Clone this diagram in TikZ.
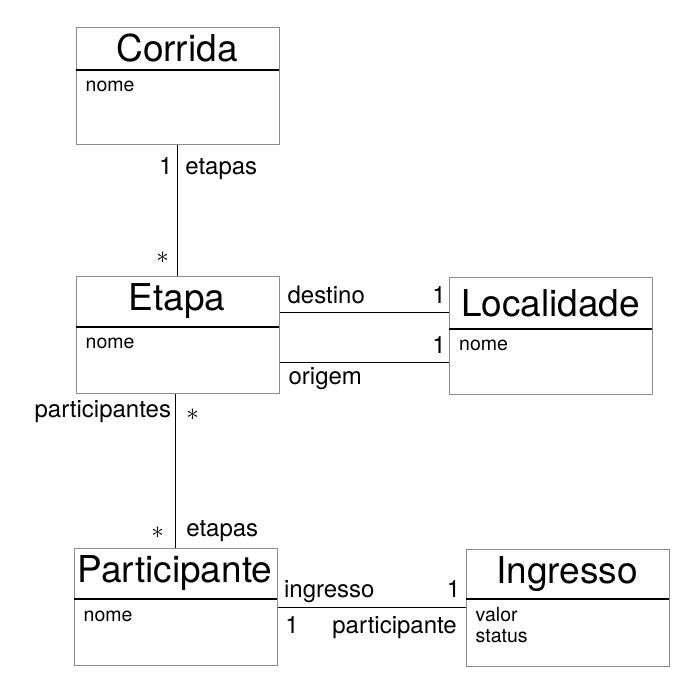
\documentclass[tikz,border=0pt]{standalone}
\usepackage{fontspec}
\setmainfont{TeX Gyre Heros}
\begin{document}
\begin{tikzpicture}[x=1pt,y=-1pt]
  \tikzset{
    classbox/.style={draw=gray!90,line width=1.4pt,minimum width=203pt,minimum height=117pt,inner sep=0pt},
    classtitle/.style={font=\fontsize{37}{40}\selectfont,inner sep=0pt},
    classattr/.style={font=\fontsize{19.5}{21}\selectfont,inner sep=0pt},
    divider/.style={line width=1.6pt},
    assoc/.style={line width=1.4pt},
    lbl/.style={font=\fontsize{24}{26}\selectfont,inner sep=0pt},
    mult/.style={lbl},
    pics/umlclass/.style n args={3}{code={
        \node[classbox,anchor=north west] (-box) at (0,0) {};
        \draw[divider] (0,#2) -- (203,#2);
        \node[classtitle] (-title) at (101.5,#2/2) {#1};
        \node[classattr,anchor=base west] (-attrs) at (10,#2+22)
          {\begin{tabular}[t]{@{}l@{}}#3\end{tabular}};
      }}
  }
  \useasboundingbox (0,0) rectangle (686,684);
  % classes
  \pic (corrida) at (75.5,27) {umlclass={Corrida}{43}{nome}};
  \pic (etapa) at (75.5,276) {umlclass={Etapa}{51}{nome}};
  \pic (localidade) at (449,277) {umlclass={Localidade}{52}{nome}};
  \pic (participante) at (73.5,548) {umlclass={Participante}{51}{nome}};
  \pic (ingresso) at (465.5,549) {umlclass={Ingresso}{50}{valor\\status}};
  % associations
  \draw[assoc] (corrida-box.south) -- (etapa-box.north)
    node[lbl,pos=0,anchor=base east,xshift=-4.5pt,yshift=-29pt] (corrida-mult) {1}
    node[lbl,pos=0,anchor=base west,xshift=7pt,yshift=-29pt] (corrida-role) {etapas}
    node[mult,pos=1,xshift=-15pt,yshift=18pt] (etapa-mult) {$\ast$};
  \coordinate (destino-a) at ([yshift=22.5pt]etapa-box.east);
  \coordinate (origem-a) at ([yshift=-27.5pt]etapa-box.east);
  \draw[assoc] (destino-a) -- (destino-a -| localidade-box.west)
    node[lbl,pos=0,anchor=base west,xshift=7pt,yshift=9pt] (destino-role) {destino}
    node[lbl,pos=1,anchor=base east,xshift=-2.5pt,yshift=9pt] (destino-mult) {1};
  \draw[assoc] (origem-a) -- (origem-a -| localidade-box.west)
    node[lbl,pos=1,anchor=base east,xshift=-2.5pt,yshift=9pt] (origem-mult) {1}
    node[lbl,pos=0,anchor=base west,xshift=8pt,yshift=-22pt] (origem-role) {origem};
  \draw[assoc] (etapa-box.south -| participante-box.north) -- (participante-box.north)
    node[lbl,pos=0,anchor=base east,xshift=-4pt,yshift=-23pt] (participantes-role) {participantes}
    node[mult,pos=0,xshift=17pt,yshift=-20pt] (participantes-mult) {$\ast$}
    node[mult,pos=1,xshift=-18pt,yshift=15pt] (etapas-mult) {$\ast$}
    node[lbl,pos=1,anchor=base west,xshift=10pt,yshift=11pt] (etapas-role) {etapas};
  \draw[assoc] (participante-box.east) -- (participante-box.east -| ingresso-box.west)
    node[lbl,pos=0,anchor=base west,xshift=5.5pt,yshift=9.5pt] (ingresso-role) {ingresso}
    node[lbl,pos=1,anchor=base east,xshift=-4.5pt,yshift=9.5pt] (ingresso-mult) {1}
    node[lbl,pos=0,anchor=base west,xshift=6.7pt,yshift=-26.5pt] (participante-mult) {1}
    node[lbl,pos=1,anchor=base east,xshift=-8pt,yshift=-26.5pt] (participante-role) {participante};
\end{tikzpicture}
\end{document}
